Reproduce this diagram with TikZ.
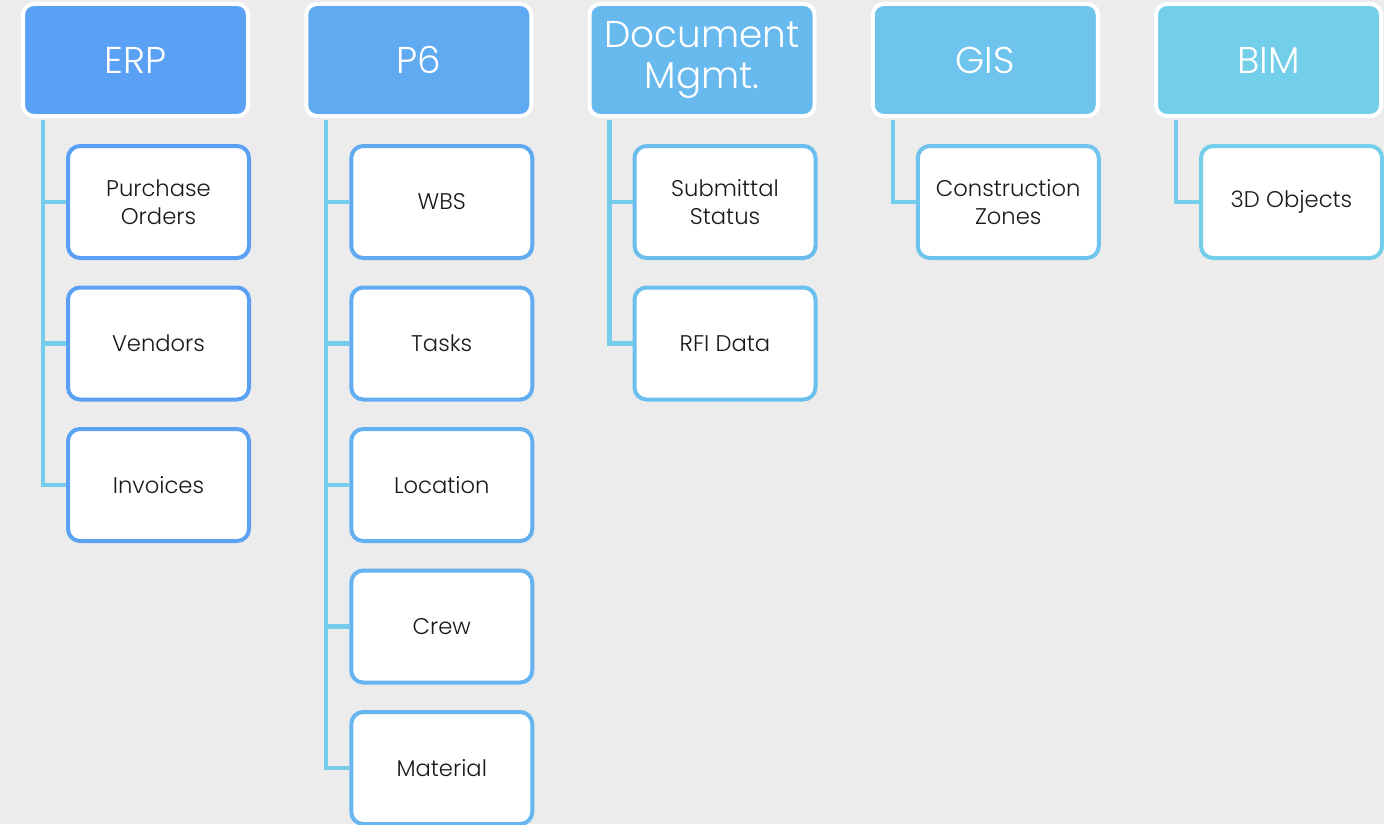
\documentclass[tikz,border=0pt]{standalone}
\usepackage{fontspec}
\setmainfont{Poppins}[UprightFont={* Light}]
\usetikzlibrary{calc}
\definecolor{bgc}{HTML}{ECECEC}
\definecolor{conn}{HTML}{74CDEA}
\definecolor{hA}{HTML}{5AA0F4}
\definecolor{hB}{HTML}{60AAF2}
\definecolor{hC}{HTML}{68B9EE}
\definecolor{hD}{HTML}{6EC4EC}
\definecolor{hE}{HTML}{73CEEA}
\tikzset{
  hdr/.style={draw=white, line width=3pt, rounded corners=8pt, minimum width=168.75pt, minimum height=84pt, inner sep=0pt, text=white, font=\fontsize{28}{31}\selectfont, align=center},
  kid/.style={draw=#1, fill=white, line width=3pt, rounded corners=9pt, minimum width=135.75pt, minimum height=84pt, inner sep=0pt, text=black!90, font=\fontsize{17}{21}\selectfont, align=center},
  lnk/.style={draw=conn, line width=3.2pt, line join=miter}
}
\begin{document}
\begin{tikzpicture}[x=0.75pt,y=-0.75pt]
\fill[bgc] (0,0) rectangle (1384,824);
\useasboundingbox (0,0) rectangle (1384,824);
\begin{scope}[draw=white!88!gray, line width=1.2pt, opacity=0.6]
\foreach \k in {0,...,9} {
  \draw (600,{410+\k*36}) .. controls (900,{395+\k*33}) and (1150,{350+\k*34}) .. (1384,{300+\k*36});
}
\foreach \k in {0,...,6} {
  \draw ({1050+\k*55},824) .. controls ({1150+\k*50},700) and ({1250+\k*40},560) .. ({1384+\k*20},{440-\k*30});
}
\end{scope}
% headers
\node[hdr, fill=hA] (h1) at (135.5,60) {ERP};
\node[hdr, fill=hB] (h2) at (418.75,60) {P6};
\node[hdr, fill=hC] (h3) at (702,60) {Document\\Mgmt.};
\node[hdr, fill=hD] (h4) at (985.25,60) {GIS};
\node[hdr, fill=hE] (h5) at (1268.5,60) {BIM};
% children
\node[kid=hA] (a1) at (158.5,202) {Purchase\\Orders};
\node[kid=hA!95!hB] (a2) at (158.5,343.5) {Vendors};
\node[kid=hA!85!hB] (a3) at (158.5,485) {Invoices};
\node[kid=hB] (b1) at (441.75,202) {WBS};
\node[kid=hB!80!hC] (b2) at (441.75,343.5) {Tasks};
\node[kid=hB!60!hC] (b3) at (441.75,485) {Location};
\node[kid=hB!40!hC] (b4) at (441.75,626.5) {Crew};
\node[kid=hB!20!hC] (b5) at (441.75,768) {Material};
\node[kid=hC!60!hD] (c1) at (725,202) {Submittal\\Status};
\node[kid=hC!40!hD] (c2) at (725,343.5) {RFI Data};
\node[kid=hD] (d1) at (1008.25,202) {Construction\\Zones};
\node[kid=hE] (e1) at (1291.5,202) {3D Objects};
% connectors
\draw[lnk] ($(h1.south west)+(22,2)$) |- (a1.west);
\draw[lnk] ($(h1.south west)+(22,2)$) |- (a2.west);
\draw[lnk] ($(h1.south west)+(22,2)$) |- (a3.west);
\draw[lnk] ($(h2.south west)+(22,2)$) |- (b1.west);
\draw[lnk] ($(h2.south west)+(22,2)$) |- (b2.west);
\draw[lnk] ($(h2.south west)+(22,2)$) |- (b3.west);
\draw[lnk] ($(h2.south west)+(22,2)$) |- (b4.west);
\draw[lnk] ($(h2.south west)+(22,2)$) |- (b5.west);
\draw[lnk] ($(h3.south west)+(22,2)$) |- (c1.west);
\draw[lnk] ($(h3.south west)+(22,2)$) |- (c2.west);
\draw[lnk] ($(h4.south west)+(22,2)$) |- (d1.west);
\draw[lnk] ($(h5.south west)+(22,2)$) |- (e1.west);
\end{tikzpicture}
\end{document}
